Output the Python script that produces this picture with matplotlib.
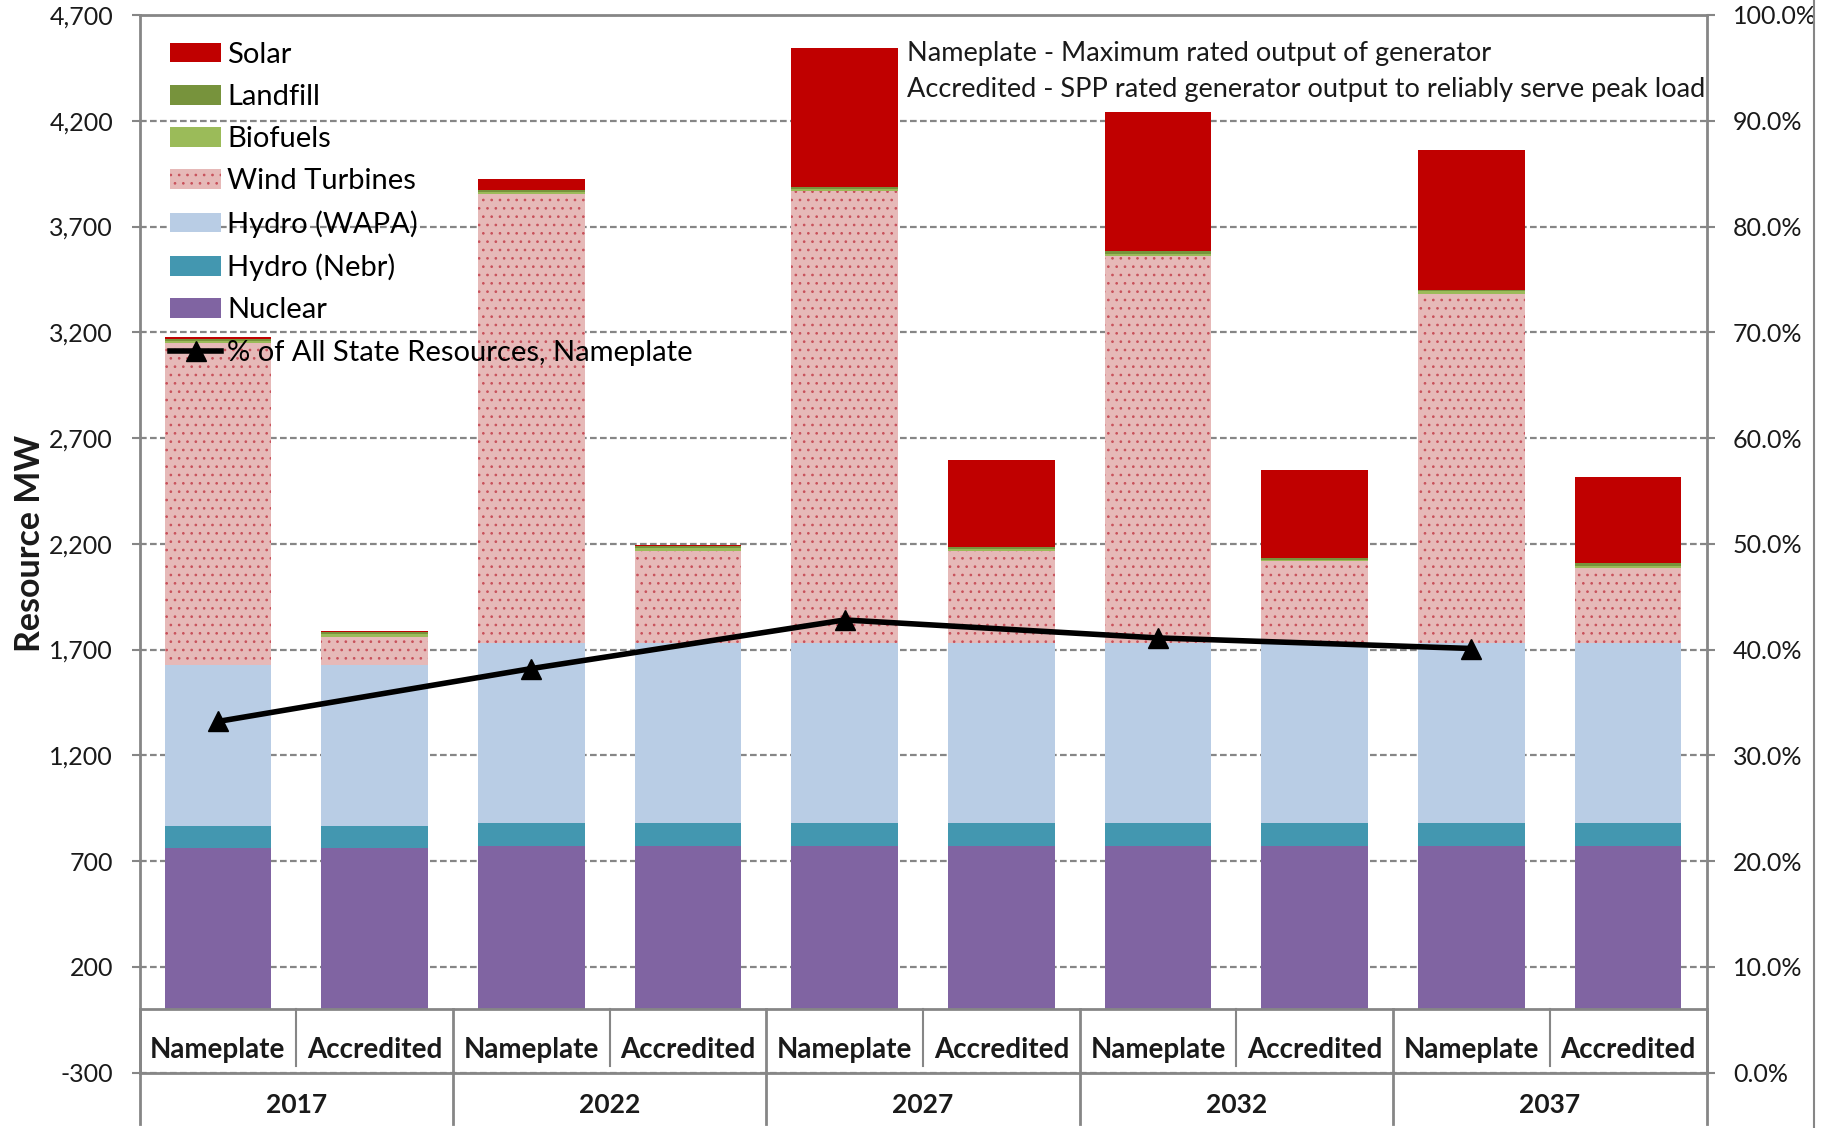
import matplotlib
matplotlib.use("Agg")
import matplotlib.pyplot as plt
from matplotlib.patches import Patch
from matplotlib.lines import Line2D
import numpy as np

plt.rcParams['font.family'] = ['Lato', 'DejaVu Sans']
plt.rcParams['hatch.linewidth'] = 0.7

years = ["2017", "2022", "2027", "2032", "2037"]
kinds = ["Nameplate", "Accredited"]

# MW per bar, order: 2017 N, 2017 A, 2022 N, 2022 A, ...
nuclear = [762, 762, 770, 770, 770, 770, 770, 770, 770, 770]
hydro_nebr = [105, 105, 110, 110, 110, 110, 110, 110, 110, 110]
hydro_wapa = [759, 759, 852, 852, 852, 852, 852, 852, 852, 852]
wind = [1524, 134, 2122, 432, 2137, 432, 1828, 385, 1651, 353]
biofuels = [10, 12, 9, 14, 10, 12, 11, 8, 10, 12]
landfill = [9, 10, 8, 11, 10, 11, 13, 9, 9, 12]
solar = [10, 8, 53, 3, 657, 408, 656, 413, 658, 407]

# % of all state resources, nameplate (one per year)
pct_nameplate = [33.2, 38.2, 42.8, 41.1, 40.1]

series = [
    ("Nuclear", nuclear, "#8064A2", None),
    ("Hydro (Nebr)", hydro_nebr, "#4397B0", None),
    ("Hydro (WAPA)", hydro_wapa, "#B9CDE5", None),
    ("Wind Turbines", wind, "#E6B9B8", ".."),
    ("Biofuels", biofuels, "#9BBB59", None),
    ("Landfill", landfill, "#77933C", None),
    ("Solar", solar, "#C00000", None),
]

GRAY = "#868686"
TXT = "#1a1a1a"

fig = plt.figure(figsize=(18.32, 11.28), dpi=100)
W, H = 1832.0, 1128.0
ax = fig.add_axes([139.5 / W, 1 - 1072.6 / H, (1706.5 - 139.5) / W, (1072.6 - 15) / H])

x = np.arange(len(nuclear))
bottom = np.zeros(len(x))
handles = {}
for name, vals, col, hatch in series:
    if hatch:
        ax.bar(x, vals, 0.68, bottom=bottom, color=col, edgecolor="#C8505A",
               linewidth=0, hatch=hatch, zorder=2)
        handles[name] = Patch(facecolor=col, edgecolor="#C8505A", linewidth=0, hatch=hatch)
    else:
        ax.bar(x, vals, 0.68, bottom=bottom, color=col, linewidth=0, zorder=2)
        handles[name] = Patch(facecolor=col, linewidth=0)
    bottom += np.array(vals)

ax.set_xlim(-0.5, 9.5)
ax.set_ylim(-300, 4700)
ax.set_yticks(np.arange(-300, 4701, 500))
ax.set_yticklabels(["{:,}".format(v) for v in range(-300, 4701, 500)])
ax.set_xticks([])
ax.set_axisbelow(True)
ax.yaxis.grid(True, color=GRAY, linewidth=1.6, linestyle=(0, (3, 1.5)))
for s in ax.spines.values():
    s.set_color(GRAY)
    s.set_linewidth(2)
ax.tick_params(axis="y", length=6, width=1.5, color=GRAY, pad=13, labelsize=18, labelcolor=TXT)

# category axis drawn as a table below zero
ax.axhline(0, color=GRAY, linewidth=2, zorder=3)
for i in range(len(x)):
    ax.text(i, -192, kinds[i % 2], ha="center", va="center", fontsize=20,
            fontweight="bold", color=TXT)
for g in range(5):
    xm = 2 * g + 0.5
    ax.plot([xm, xm], [0, -270], color=GRAY, linewidth=1.5, clip_on=False)
    ax.text(xm, -452, years[g], ha="center", va="center", fontsize=19,
            fontweight="bold", color=TXT, clip_on=False)
for xv in [-0.5, 1.5, 3.5, 5.5, 7.5, 9.5]:
    ax.plot([xv, xv], [0, -545], color=GRAY, linewidth=2, clip_on=False)

ax2 = ax.twinx()
ax2.set_ylim(0, 100)
ax2.set_yticks(np.arange(0, 101, 10))
ax2.set_yticklabels(["{:.1f}%".format(v) for v in range(0, 101, 10)])
ax2.tick_params(axis="y", length=6, width=1.5, color=GRAY, pad=13, labelsize=18, labelcolor=TXT)
for s in ax2.spines.values():
    s.set_visible(False)
line, = ax2.plot(x[::2], pct_nameplate, color="black", linewidth=4, marker="^",
                 markersize=14, zorder=5)

leg_order = ["Solar", "Landfill", "Biofuels", "Wind Turbines", "Hydro (WAPA)", "Hydro (Nebr)", "Nuclear"]
leg_handles = [handles[n] for n in leg_order] + [line]
leg_labels = leg_order + ["% of All State Resources, Nameplate"]
ax2.legend(leg_handles, leg_labels, loc="upper left", bbox_to_anchor=(170 / W, 1 - 42 / H),
           bbox_transform=fig.transFigure, frameon=False, fontsize=21, borderpad=0,
           borderaxespad=0, labelspacing=0.55, handlelength=1.76, handleheight=0.65,
           handletextpad=0.2)

fig.text(907 / W, 1 - 54 / H, "Nameplate - Maximum rated output of generator",
         fontsize=19.5, va="center", ha="left", color=TXT)
fig.text(907 / W, 1 - 89 / H, "Accredited - SPP rated generator output to reliably serve peak load",
         fontsize=19.5, va="center", ha="left", color=TXT)
fig.text(30 / W, 1 - 543 / H, "Resource MW", rotation=90, fontsize=24.5, fontweight="bold",
         va="center", ha="center", color=TXT)

# outer chart border on the right
fig.add_artist(Line2D([1814 / W, 1814 / W], [0, 1], transform=fig.transFigure, color=GRAY, linewidth=1.5))

fig.savefig("out.png", dpi=100)
